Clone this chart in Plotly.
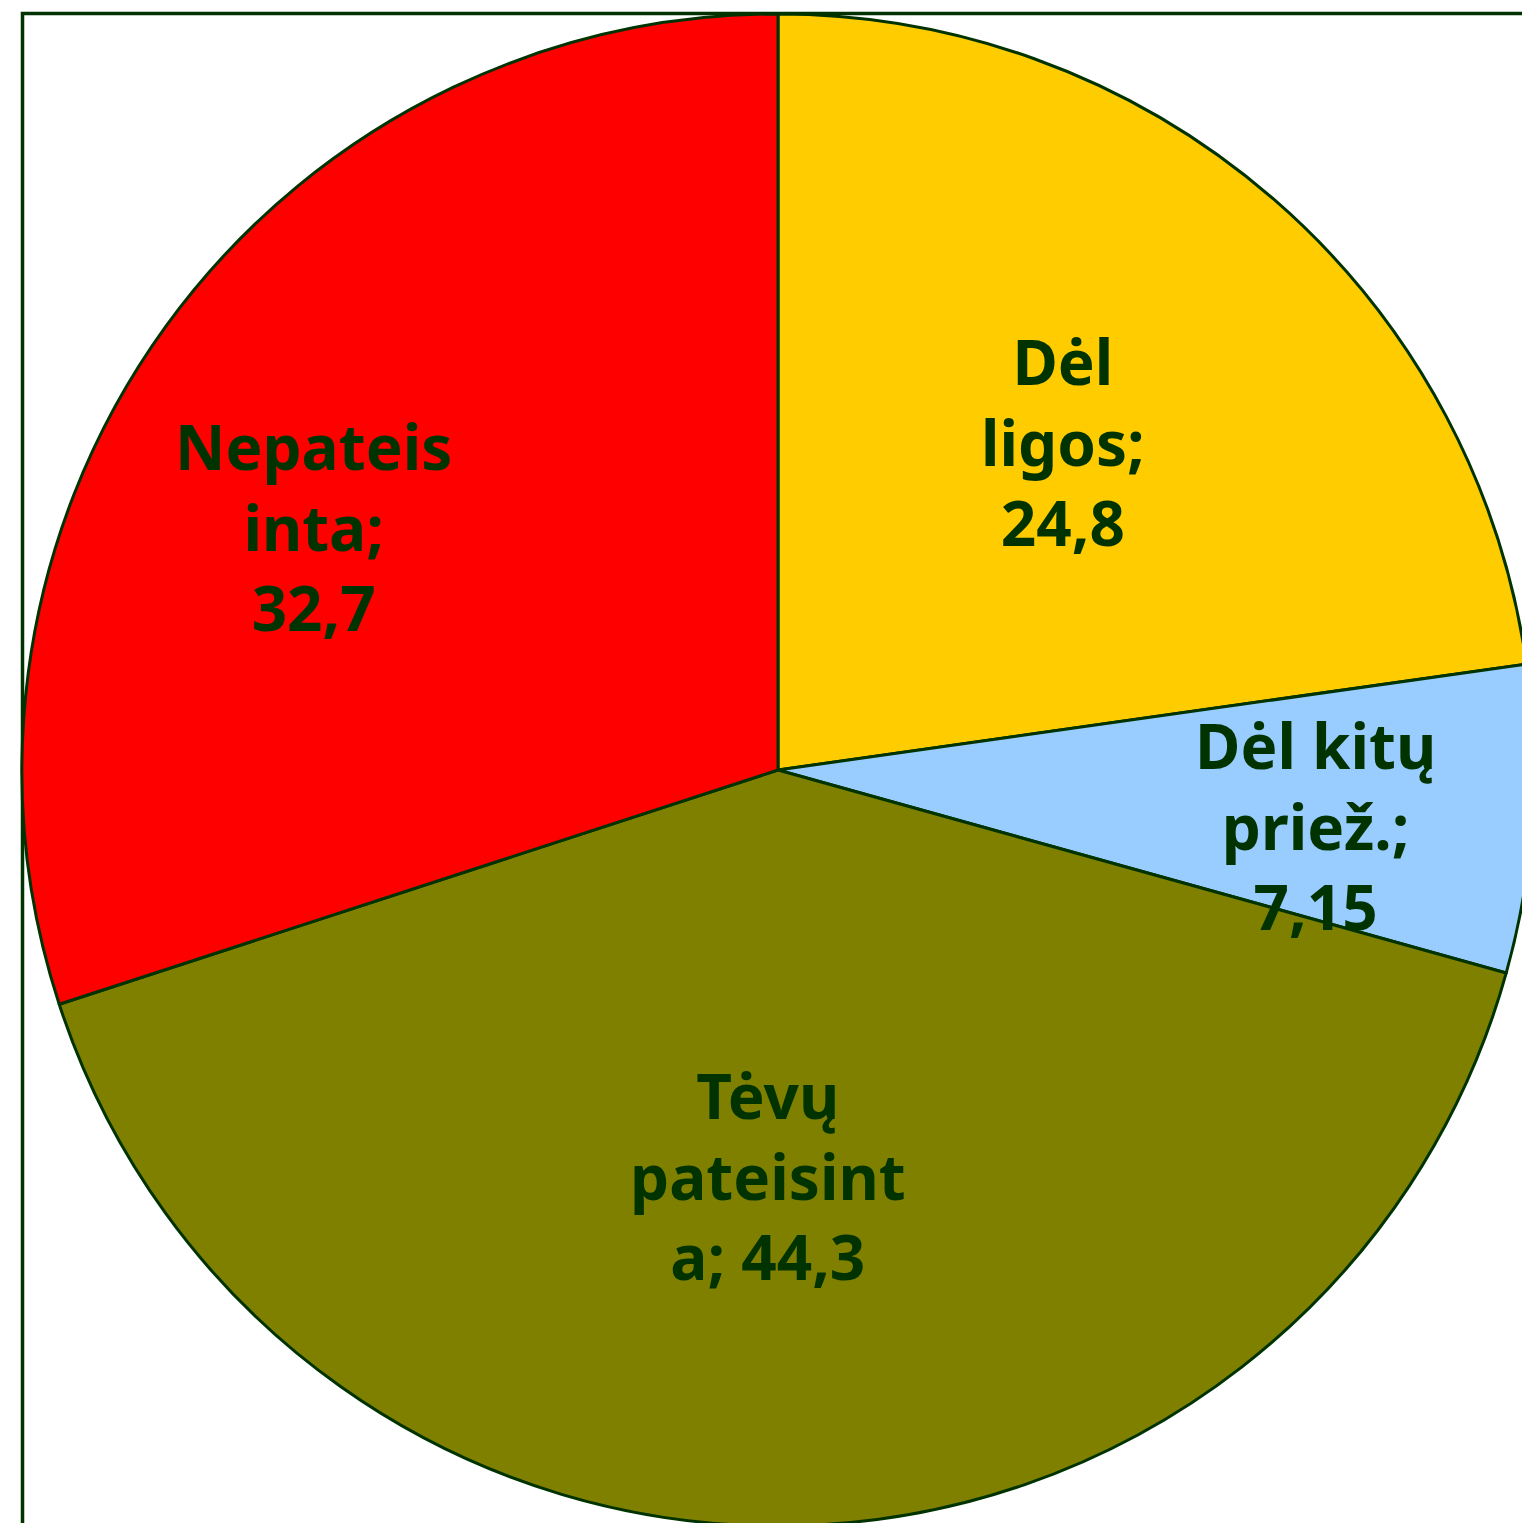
import plotly.graph_objects as go

# data
categories = ["Dėl ligos", "Dėl kitų priež.", "Tėvų pateisinta", "Nepateisinta"]
values = [24.8, 7.15, 44.3, 32.7]
label_texts = ["Dėl<br>ligos;<br>24,8", "Dėl kitų<br>priež.;<br>7,15",
               "Tėvų<br>pateisint<br>a; 44,3", "Nepateis<br>inta;<br>32,7"]

slice_colors = ["#FFCC00", "#99CCFF", "#808000", "#FF0000"]
dark_green = "#003300"

# canvas is a bit larger than the window, the pie runs off the right/bottom edge
W, H = 1560, 1560
cx, cy, r = 778, 770, 756

# label centres in pixels (x, y from top)
label_pos = [(1063, 441), (1315, 825), (768, 1175), (313, 526)]

fig = go.Figure()
fig.add_trace(go.Pie(
    labels=categories,
    values=values,
    sort=False,
    direction="clockwise",
    rotation=0,
    textinfo="none",
    hoverinfo="label+value",
    marker=dict(colors=slice_colors, line=dict(color=dark_green, width=3)),
    domain=dict(x=[(cx - r) / W, (cx + r) / W],
                y=[(H - cy - r) / H, (H - cy + r) / H]),
    showlegend=False
))

for txt, (px_x, px_y) in zip(label_texts, label_pos):
    fig.add_annotation(
        x=px_x / W, y=1 - px_y / H, xref="paper", yref="paper",
        text="<b>" + txt + "</b>", showarrow=False,
        xanchor="center", yanchor="middle", align="center",
        font=dict(family="Noto Sans, Open Sans, sans-serif", size=62, color=dark_green)
    )

# chart-area frame (only top and left edges are visible)
fig.add_shape(type="rect", xref="paper", yref="paper",
              x0=22.5 / W, x1=1, y0=0, y1=1 - 13.5 / H,
              line=dict(color=dark_green, width=3.5), layer="below")

fig.update_layout(
    width=W, height=H,
    margin=dict(l=0, r=0, t=0, b=0),
    paper_bgcolor="white",
    plot_bgcolor="white"
)

fig.write_html("out.html", config={"displayModeBar": False},
               post_script="document.body.style.margin='0';document.body.style.overflow='hidden';")
